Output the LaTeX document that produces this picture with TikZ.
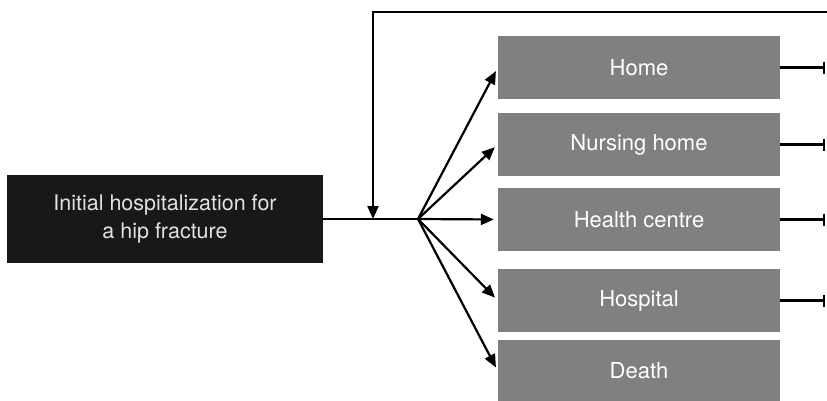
\documentclass[tikz,border=0pt]{standalone}
\usepackage{fontspec}
\setmainfont{TeX Gyre Heros}
\usetikzlibrary{arrows.meta}
\definecolor{startfill}{HTML}{181818}
\definecolor{starttext}{HTML}{E2E2E2}
\definecolor{outfill}{HTML}{808080}
\begin{document}
\begin{tikzpicture}[x=1pt,y=-1pt,
  startbox/.style={fill=startfill,text=starttext,minimum width=316pt,minimum height=88pt,
    align=center,inner sep=0pt,font=\fontsize{21.5}{28}\selectfont},
  outbox/.style={fill=outfill,text=white,minimum width=282pt,minimum height=63pt,
    inner sep=0pt,font=\fontsize{22}{26}\selectfont},
  link/.style={line width=2.2pt,draw=black},
  arr/.style={link,-{Triangle[length=13pt,width=11pt]}},
  fanarr/.style={arr,shorten >=4pt},
  endbar/.style={link,-{Bar[width=12pt,line width=2.5pt]}}]
\useasboundingbox (0,0) rectangle (827,400);

% source and destinations
\node[startbox] (init) at (165,219) {Initial hospitalization for\\a hip fracture};
\node[outbox] (home)    at (639,67.5)  {Home};
\node[outbox] (nursing) at (639,144.5) {Nursing home};
\node[outbox] (health)  at (639,219.5) {Health centre};
\node[outbox] (hosp)    at (639,300.5) {Hospital};
\node[outbox] (death)   at (639,371)   {Death};

% junction points
\coordinate (fan) at (418,219);
\coordinate (merge) at (373,219);
\coordinate (topR) at (827,12);
\coordinate (homeOut) at (825,67.5);
\coordinate (nursingOut) at (825,144.5);
\coordinate (healthOut) at (825,219.5);
\coordinate (hospOut) at (825,300.5);

% main line and readmission loop
\draw[link] (init.east) -- (fan);
\draw[arr] (topR) -| (merge);

% fan out to destinations
\draw[fanarr] (fan) -- (home.west);
\draw[fanarr] (fan) -- (nursing.west);
\draw[fanarr] (fan) -- (health.west);
\draw[fanarr] (fan) -- (hosp.west);
\draw[fanarr] (fan) -- (death.west);

% onward transitions
\draw[endbar] (home.east) -- (homeOut);
\draw[endbar] (nursing.east) -- (nursingOut);
\draw[endbar] (health.east) -- (healthOut);
\draw[endbar] (hosp.east) -- (hospOut);
\end{tikzpicture}
\end{document}
